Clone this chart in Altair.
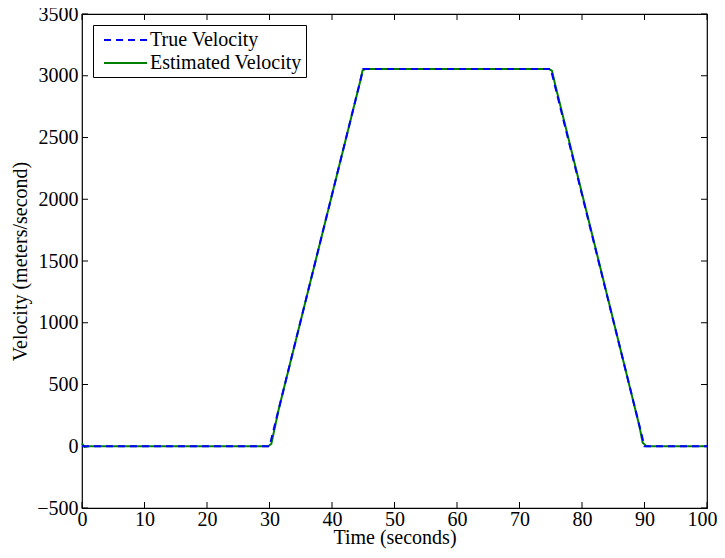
import altair as alt
import pandas as pd

# True velocity (piecewise)
true_t = [0, 30, 45, 75, 90, 100]
true_v = [0, 0, 3055, 3055, 0, 0]

# Estimated velocity
est_t = [0, 0.4, 1.0, 29.8, 30.3, 30.8, 31.5, 44.5, 44.9, 45.4, 74.7, 75.2, 75.7, 89.2, 89.7, 90.3, 100]
est_v = [22, -6, 0, 0, 20, 140, 305, 2953, 3045, 3055, 3055, 3040, 2930, 160, 30, 0, 0]

series_names = ["True Velocity", "Estimated Velocity"]
series_colors = ["#0000ff", "#008000"]

x_ticks = [0, 10, 20, 30, 40, 50, 60, 70, 80, 90, 100]
y_ticks = [-500, 0, 500, 1000, 1500, 2000, 2500, 3000, 3500]

W, H = 625, 494
FONT = "Liberation Serif"
FS = 20

df = pd.concat([
    pd.DataFrame({"t": est_t, "v": est_v, "series": series_names[1], "o": range(len(est_t))}),
    pd.DataFrame({"t": true_t, "v": true_v, "series": series_names[0], "o": range(len(true_t))}),
])

xscale = alt.Scale(domain=[0, 100], nice=False, zero=False)
yscale = alt.Scale(domain=[-500, 3500], nice=False, zero=False)
cscale = alt.Scale(domain=series_names, range=series_colors)
dscale = alt.Scale(domain=series_names, range=[[7, 5], [1, 0]])

legend = alt.Legend(
    title=None, orient="top-left", offset=11, fillColor="white", strokeColor="black",
    padding=4, labelFont=FONT, labelFontSize=FS, labelColor="black",
    symbolType="M-0.4,0L3.9,0", symbolSize=400, symbolStrokeWidth=2, rowPadding=2,
    labelOffset=31, labelLimit=400,
)

xaxis = alt.Axis(values=x_ticks, domain=False, ticks=False, grid=False, labelFont=FONT,
                 labelFontSize=FS, labelColor="black", labelPadding=1, labelFlush=False,
                 labelOverlap=False, format="d", title="Time (seconds)",
                 labelOffset={"condition": {"test": "datum.value === 100", "value": -5}, "value": 0},
                 titleFont=FONT, titleFontSize=FS, titleFontWeight="normal", titleColor="black",
                 titlePadding=-2)
yaxis = alt.Axis(values=y_ticks, domain=False, ticks=False, grid=False, labelFont=FONT,
                 labelFontSize=FS, labelColor="black", labelPadding=4, labelFlush=False,
                 labelOverlap=False, format="d",
                 title="Velocity (meters/second)", titleFont=FONT, titleFontSize=FS,
                 titleFontWeight="normal", titleColor="black", titlePadding=6)

base = alt.Chart(df)
est_line = base.transform_filter(alt.datum.series == series_names[1]).mark_line(strokeWidth=2).encode(
    x=alt.X("t:Q", scale=xscale, axis=xaxis),
    y=alt.Y("v:Q", scale=yscale, axis=yaxis),
    color=alt.Color("series:N", scale=cscale, legend=legend, sort=series_names),
    strokeDash=alt.StrokeDash("series:N", scale=dscale, legend=legend, sort=series_names),
    order="o:Q",
)
true_line = base.transform_filter(alt.datum.series == series_names[0]).mark_line(strokeWidth=2).encode(
    x=alt.X("t:Q", scale=xscale),
    y=alt.Y("v:Q", scale=yscale),
    color=alt.Color("series:N", scale=cscale, legend=legend, sort=series_names),
    strokeDash=alt.StrokeDash("series:N", scale=dscale, legend=legend, sort=series_names),
    order="o:Q",
)

xt = pd.DataFrame({"tx": x_ticks})
yt = pd.DataFrame({"ty": y_ticks})
tick_len = 6
xb = alt.Chart(xt).mark_rule(color="black", strokeWidth=1).encode(
    x=alt.X("tx:Q", scale=xscale), y=alt.value(H), y2=alt.value(H - tick_len))
xtop = alt.Chart(xt).mark_rule(color="black", strokeWidth=1).encode(
    x=alt.X("tx:Q", scale=xscale), y=alt.value(0), y2=alt.value(tick_len))
yl = alt.Chart(yt).mark_rule(color="black", strokeWidth=1).encode(
    y=alt.Y("ty:Q", scale=yscale), x=alt.value(0), x2=alt.value(tick_len))
yr = alt.Chart(yt).mark_rule(color="black", strokeWidth=1).encode(
    y=alt.Y("ty:Q", scale=yscale), x=alt.value(W), x2=alt.value(W - tick_len))

chart = alt.layer(xb, xtop, yl, yr, est_line, true_line).properties(
    width=W, height=H,
    autosize=alt.AutoSizeParams(type="none"),
    padding={"left": 74, "top": 6, "right": 10, "bottom": 42},
    background="white",
).configure_view(stroke="black", strokeWidth=1.2)

chart.save("out.html", embed_options={"renderer": "svg", "actions": False})
